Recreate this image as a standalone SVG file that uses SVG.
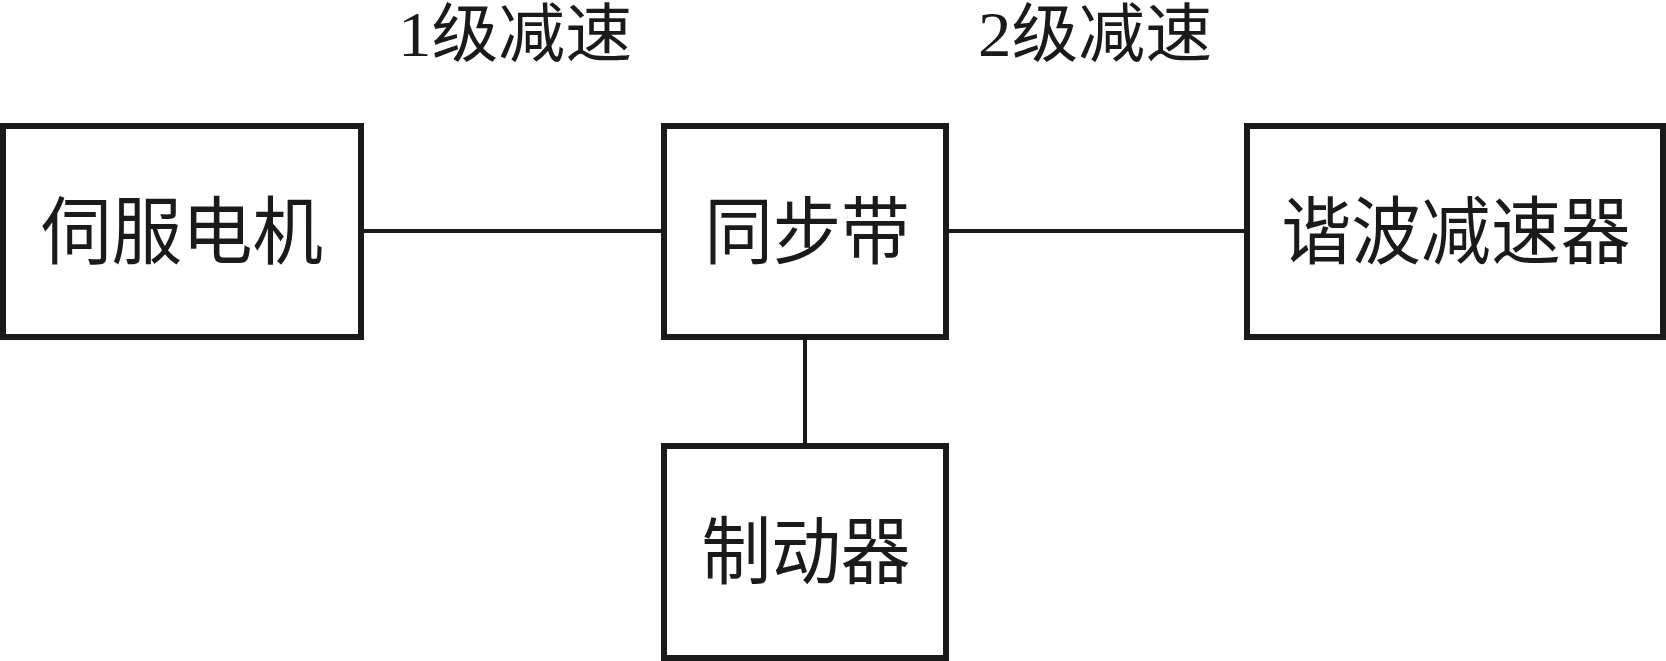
<svg xmlns="http://www.w3.org/2000/svg" width="1666" height="661" viewBox="0 0 1666 661">
<style>
.box{fill:#fff;stroke:#1a1a1a;stroke-width:6}
.ln{stroke:#1a1a1a;stroke-width:4;fill:none}
.t{font-family:"Liberation Serif","Noto Sans CJK SC",serif;font-size:74px;fill:#1a1a1a;text-anchor:middle}
.h{font-family:"Liberation Serif","Noto Sans CJK SC",serif;font-size:64px;fill:#1a1a1a;text-anchor:middle}
</style>
<rect width="1666" height="661" fill="#fff"/>
<g id="connectors">
<line class="ln" x1="364" y1="231" x2="664" y2="231"/>
<line class="ln" x1="946" y1="231" x2="1247" y2="231"/>
<line class="ln" x1="805" y1="337" x2="805" y2="446"/>
</g>
<g id="servo">
<rect class="box" x="3" y="126" width="358" height="211"/>
<text class="t" x="182" y="258" textLength="282" lengthAdjust="spacingAndGlyphs">伺服电机</text>
</g>
<g id="belt">
<rect class="box" x="664" y="126" width="282" height="211"/>
<text class="t" x="807" y="258" textLength="205" lengthAdjust="spacingAndGlyphs">同步带</text>
</g>
<g id="harmonic">
<rect class="box" x="1247" y="126" width="416" height="211"/>
<text class="t" x="1456" y="258" textLength="349" lengthAdjust="spacingAndGlyphs">谐波减速器</text>
</g>
<g id="brake">
<rect class="box" x="664" y="446" width="282" height="212"/>
<text class="t" x="806" y="578" textLength="209" lengthAdjust="spacingAndGlyphs">制动器</text>
</g>
<g id="labels">
<text class="h" x="515" y="56" textLength="234" lengthAdjust="spacingAndGlyphs">1级减速</text>
<text class="h" x="1095" y="56" textLength="234" lengthAdjust="spacingAndGlyphs">2级减速</text>
</g>
</svg>
